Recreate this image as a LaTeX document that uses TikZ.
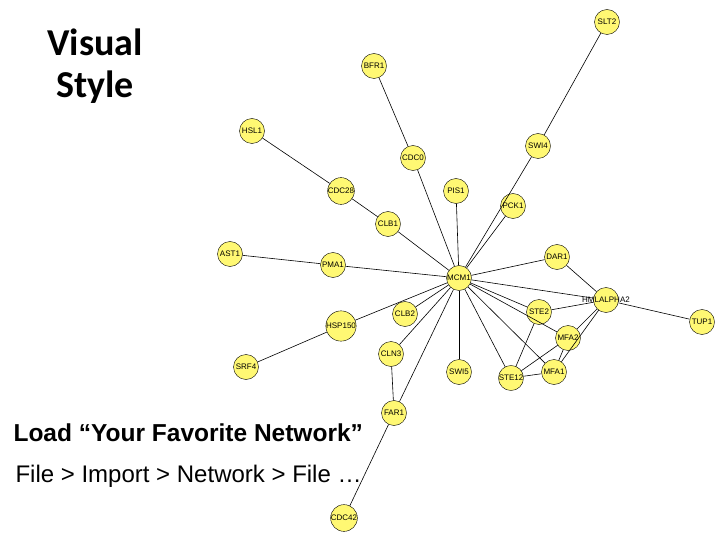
\documentclass[tikz,border=0pt]{standalone}
\usepackage{fontspec}
\setmainfont{Liberation Sans}
\newfontfamily\titlefont{Carlito}
\usetikzlibrary{positioning}

\begin{document}
\begin{tikzpicture}[
    x=1pt, y=-1pt,
    gene/.style={circle, draw=black, fill=yellow!55, minimum size=25pt, inner sep=0pt, font=\fontsize{8}{8}\selectfont},
    widegene/.style={circle, draw=black, fill=yellow!55, minimum size=25pt, inner sep=0pt,
        label={[font=\fontsize{8}{8}\selectfont]center:#1}},
    link/.style={draw=black, line width=0.6pt},
]
\useasboundingbox (0,0) rectangle (720,540);

% Titles
\node[font=\titlefont\bfseries\fontsize{38}{42}\selectfont, align=center] (title) at (95,66) {Visual\\Style};
\node[anchor=west, font=\bfseries\fontsize{24.5}{27}\selectfont] (load) at (10,433) {Load “Your Favorite Network”};
\node[anchor=west, font=\fontsize{24}{27}\selectfont] (menu) at (12,476) {File > Import > Network > File …};

% Genes
\node[gene] (slt2) at (607,22) {SLT2};
\node[gene] (bfr1) at (374,66) {BFR1};
\node[gene] (hsl1) at (252,131) {HSL1};
\node[gene] (cdc0) at (413,158) {CDC0};
\node[gene] (swi4) at (538,146) {SWI4};
\node[gene] (cdc28) at (341,191) {CDC28};
\node[gene] (pis1) at (456,191) {PIS1};
\node[gene] (pck1) at (513,206) {PCK1};
\node[gene] (clb1) at (388,224) {CLB1};
\node[gene] (ast1) at (230,254) {AST1};
\node[gene] (pma1) at (333,265) {PMA1};
\node[gene] (dar1) at (557,257) {DAR1};
\node[gene] (mcm1) at (459,278) {MCM1};
\node[widegene=HMLALPHA2] (hml) at (606,300) {};
\node[gene] (ste2) at (539,312) {STE2};
\node[gene] (tup1) at (702,322) {TUP1};
\node[gene] (clb2) at (405,314) {CLB2};
\node[gene] (hsp150) at (341,326) {HSP150};
\node[gene] (mfa2) at (568,338) {MFA2};
\node[gene] (cln3) at (391,354) {CLN3};
\node[gene] (swi5) at (459,372) {SWI5};
\node[gene] (ste12) at (511,378) {STE12};
\node[gene] (mfa1) at (554,372) {MFA1};
\node[gene] (srf4) at (246,367) {SRF4};
\node[gene] (far1) at (394,413) {FAR1};
\node[gene] (cdc42) at (344,518) {CDC42};

% Links
\foreach \a/\b in {slt2/swi4, swi4/mcm1, bfr1/cdc0, cdc0/mcm1, hsl1/cdc28, cdc28/clb1, clb1/mcm1,
    pis1/mcm1, pck1/mcm1, ast1/pma1, pma1/mcm1, dar1/mcm1, dar1/hml, mcm1/hml, hml/tup1,
    ste2/hml, mcm1/ste2, mcm1/clb2, mcm1/hsp150, hsp150/srf4, mcm1/cln3, cln3/far1, mcm1/far1,
    mcm1/swi5, mcm1/ste12, mcm1/mfa2, mcm1/mfa1, ste2/ste12, ste12/mfa2, ste12/mfa1,
    mfa1/mfa2, mfa2/hml, mfa1/hml, far1/cdc42}
    \draw[link] (\a) -- (\b);

\end{tikzpicture}
\end{document}
